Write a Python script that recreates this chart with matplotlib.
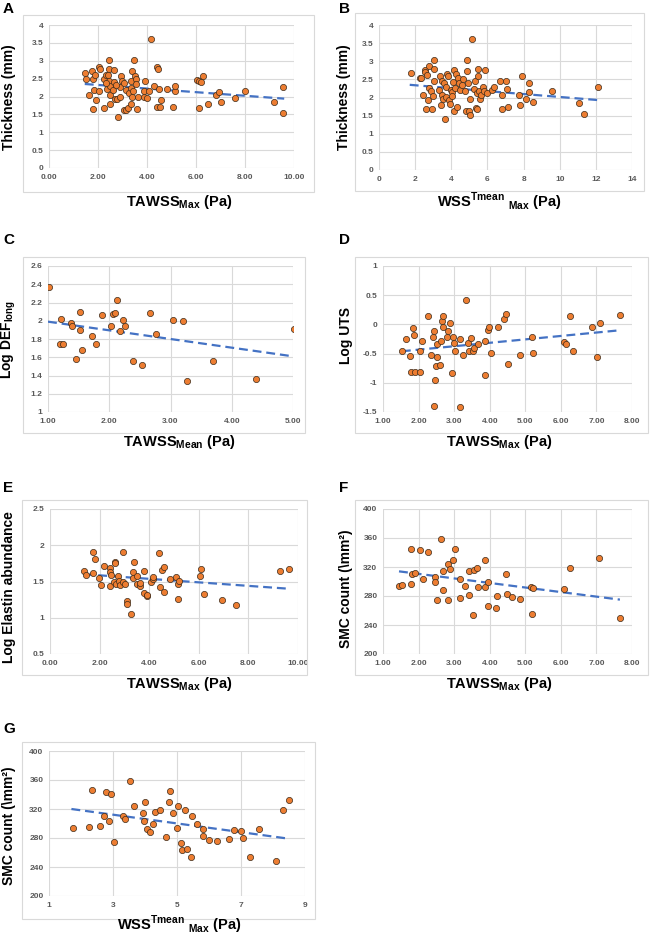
import matplotlib
matplotlib.use("Agg")
import matplotlib.pyplot as plt
from matplotlib.patches import Rectangle

plt.rcParams['font.family'] = ['Liberation Sans', 'DejaVu Sans']
plt.rcParams['mathtext.fontset'] = 'custom'
plt.rcParams['mathtext.rm'] = 'Liberation Sans:bold'
plt.rcParams['mathtext.bf'] = 'Liberation Sans:bold'

# --- data ---
a_x = [1.46, 1.52, 1.77, 1.81, 1.86, 1.63, 1.82, 1.90, 1.78, 2.03, 2.10, 2.04, 2.26, 2.23, 2.31,
       2.46, 2.46, 2.41, 2.44, 2.38, 2.48, 2.50, 2.48, 2.67, 2.65, 2.61, 2.68, 2.79, 2.80, 2.88,
       2.95, 2.99, 3.05, 3.05, 2.91, 3.13, 3.16, 3.22, 3.27, 3.33, 3.36, 3.33, 3.37, 3.40, 3.47,
       3.50, 3.54, 3.56, 3.61, 3.65, 3.43, 3.86, 3.92, 3.86, 3.99, 4.07, 4.18, 4.27, 4.42, 4.45,
       4.39, 4.50, 4.52, 4.59, 4.83, 5.06, 5.13, 5.16, 6.04, 6.11, 6.20, 6.29, 6.11, 6.49, 6.80,
       6.94, 7.03, 7.61, 8.00, 9.18, 9.55, 9.55, 2.31, 2.72]
a_y = [2.66, 2.50, 2.72, 2.50, 2.61, 2.04, 2.19, 1.90, 1.66, 2.83, 2.77, 2.14, 1.68, 2.49, 2.61,
       3.03, 2.77, 2.59, 2.43, 2.21, 2.05, 2.30, 1.80, 2.74, 2.40, 2.19, 1.94, 1.94, 1.43, 2.27,
       2.58, 2.44, 2.38, 1.63, 2.00, 1.63, 2.19, 1.68, 2.10, 2.24, 2.42, 1.80, 2.00, 2.72, 3.03,
       2.58, 2.50, 2.35, 1.65, 2.00, 2.14, 2.14, 2.44, 1.99, 1.96, 2.14, 3.60, 2.30, 2.82, 2.77,
       1.70, 2.22, 1.70, 1.89, 2.21, 1.72, 2.14, 2.28, 2.46, 2.44, 2.40, 2.58, 1.67, 1.79, 2.05,
       2.12, 1.86, 1.95, 2.15, 1.85, 2.27, 1.54, 2.38, 2.33]
a_trend_x = [1.46, 9.60]
a_trend_y = [2.35, 1.94]

b_x = [1.75, 2.25, 2.35, 2.53, 2.55, 2.64, 2.79, 3.05, 3.05, 3.05, 2.46, 2.70, 2.77, 2.86, 3.01,
       2.62, 2.96, 3.32, 3.36, 3.42, 3.47, 3.51, 3.60, 3.64, 3.55, 3.69, 3.72, 3.79, 3.82, 3.88,
       3.93, 3.97, 4.03, 4.06, 4.12, 4.16, 4.16, 4.21, 4.25, 4.29, 4.36, 4.43, 4.47, 4.62, 4.67,
       4.77, 4.80, 4.89, 4.89, 4.95, 4.99, 5.02, 5.02, 5.17, 5.26, 5.32, 5.36, 5.45, 5.45, 5.49,
       5.50, 5.58, 5.54, 5.67, 5.73, 5.82, 5.87, 6.00, 6.28, 6.37, 6.67, 6.80, 6.80, 7.02, 7.11,
       7.15, 7.72, 7.81, 7.91, 8.13, 8.29, 8.31, 8.50, 9.55, 11.05, 11.32, 12.10]
b_y = [2.68, 2.53, 2.55, 2.77, 2.69, 2.63, 2.86, 3.04, 2.78, 2.46, 2.06, 1.92, 2.26, 2.17, 2.05,
       1.68, 1.68, 2.21, 2.60, 1.80, 2.46, 2.07, 2.41, 1.40, 1.95, 2.29, 2.01, 2.65, 2.58, 1.94,
       1.82, 2.21, 2.14, 2.03, 2.44, 2.76, 1.64, 2.26, 2.65, 1.73, 2.53, 2.40, 2.21, 2.35, 2.51,
       2.17, 1.64, 2.74, 3.04, 2.41, 1.64, 1.52, 1.95, 3.61, 2.23, 2.46, 1.71, 1.68, 2.12, 2.60,
       2.80, 1.95, 2.17, 2.07, 2.30, 2.17, 2.76, 2.12, 2.21, 2.30, 2.46, 2.06, 1.68, 2.46, 2.24,
       1.75, 2.06, 1.80, 2.60, 1.95, 2.14, 2.41, 1.87, 2.18, 1.84, 1.55, 2.29]
b_trend_x = [1.70, 12.10]
b_trend_y = [2.35, 1.93]

c_x = [1.02, 1.21, 1.20, 1.24, 1.38, 1.39, 1.46, 1.52, 1.52, 1.56, 1.72, 1.79, 1.88, 2.03, 2.06,
       2.10, 2.13, 2.18, 2.23, 2.26, 2.39, 2.53, 2.66, 2.77, 3.04, 3.21, 3.27, 3.69, 4.40, 5.01]
c_y = [2.37, 2.02, 1.75, 1.74, 1.97, 1.94, 1.58, 2.10, 1.90, 1.68, 1.83, 1.74, 2.06, 1.94, 2.07,
       2.08, 2.23, 1.89, 2.01, 1.94, 1.56, 1.52, 2.09, 1.85, 2.01, 2.00, 1.34, 1.56, 1.36, 1.91]
c_trend_x = [1.00, 5.00]
c_trend_y = [1.99, 1.61]

d_x = [1.53, 1.64, 1.76, 1.78, 1.83, 1.86, 1.90, 2.04, 2.04, 2.09, 2.27, 2.34, 2.40, 2.42, 2.42,
       2.46, 2.50, 2.52, 2.53, 2.60, 2.64, 2.66, 2.68, 2.68, 2.80, 2.82, 2.87, 2.93, 2.98, 3.00,
       3.02, 3.17, 3.17, 3.26, 3.32, 3.38, 3.43, 3.48, 3.53, 3.57, 3.67, 3.87, 3.88, 3.95, 3.98,
       4.04, 4.22, 4.41, 4.47, 4.51, 4.86, 5.19, 5.21, 6.10, 6.15, 6.25, 6.33, 6.88, 7.01, 7.11,
       7.67]
d_y = [-0.45, -0.25, -0.54, -0.81, -0.07, -0.18, -0.81, -0.81, -0.45, -0.28, 0.14, -0.53, -0.21,
       -0.12, -1.39, -0.95, -0.72, -0.33, -0.56, -0.69, -0.28, 0.05, 0.14, -0.04, -0.21, -0.12,
       0.02, -0.84, -0.21, -0.32, -0.45, -0.25, -1.41, -0.52, 0.42, -0.32, -0.45, -0.24, -0.45,
       -0.40, -0.33, -0.29, -0.86, -0.10, -0.04, -0.49, -0.04, 0.10, 0.18, -0.67, -0.52, -0.21,
       -0.49, -0.30, -0.33, 0.14, -0.45, -0.05, -0.56, 0.03, 0.16]
d_trend_x = [1.53, 7.67]
d_trend_y = [-0.46, -0.10]

e_x = [1.39, 1.45, 1.75, 1.83, 1.72, 1.97, 2.06, 2.19, 2.40, 2.42, 2.45, 2.42, 2.60, 2.62, 2.62,
       2.65, 2.76, 2.79, 2.83, 2.93, 2.96, 3.04, 3.10, 3.12, 3.26, 3.34, 3.36, 3.39, 3.50, 3.50,
       3.61, 3.63, 3.81, 3.81, 3.90, 3.90, 4.06, 4.14, 4.17, 4.41, 4.44, 4.51, 4.58, 4.60, 4.82,
       5.07, 5.16, 5.16, 5.21, 6.06, 6.08, 6.22, 6.94, 7.50, 9.26, 9.64]
e_y = [1.64, 1.59, 1.91, 1.81, 1.62, 1.55, 1.45, 1.72, 1.68, 1.63, 1.59, 1.44, 1.49, 1.77, 1.75,
       1.46, 1.57, 1.51, 1.45, 1.91, 1.50, 1.47, 1.23, 1.19, 1.05, 1.55, 1.63, 1.77, 1.47, 1.58,
       1.44, 1.48, 1.65, 1.34, 1.30, 1.32, 1.49, 1.53, 1.56, 1.89, 1.42, 1.66, 1.70, 1.36, 1.53,
       1.56, 1.47, 1.26, 1.51, 1.57, 1.67, 1.33, 1.25, 1.18, 1.65, 1.67]
e_trend_x = [1.39, 9.64]
e_trend_y = [1.60, 1.40]

f_x = [1.45, 1.53, 1.78, 1.78, 1.82, 1.90, 2.03, 2.13, 2.26, 2.47, 2.47, 2.52, 2.63, 2.68, 2.68,
       2.82, 2.82, 2.89, 2.98, 3.02, 3.17, 3.17, 3.31, 3.41, 3.43, 3.53, 3.55, 3.65, 3.68, 3.86,
       3.87, 3.95, 3.95, 4.18, 4.20, 4.46, 4.49, 4.63, 4.86, 5.16, 5.18, 5.21, 6.08, 6.25, 7.08,
       7.66]
f_y = [294, 295, 297, 345, 310, 312, 343, 304, 341, 306, 300, 275, 359, 288, 315,
       324, 274, 317, 330, 345, 303, 277, 294, 315, 282, 254, 316, 319, 292, 292,
       329, 300, 266, 264, 280, 311, 283, 279, 276, 292, 255, 291, 289, 319, 332,
       249]
f_trend_x = [1.45, 7.66]
f_trend_y = [314, 275]

g_x = [1.75, 2.25, 2.35, 2.60, 2.71, 2.79, 2.86, 2.93, 3.03, 3.31, 3.39, 3.52, 3.65, 3.93, 3.98,
       4.01, 4.07, 4.16, 4.26, 4.31, 4.47, 4.66, 4.76, 4.79, 4.86, 4.99, 5.02, 5.14, 5.17, 5.26,
       5.31, 5.45, 5.48, 5.62, 5.80, 5.82, 6.01, 6.26, 6.64, 6.77, 7.01, 7.07, 7.28, 7.56, 8.10,
       8.30, 8.49]
g_y = [294, 295, 346, 297, 311, 343, 304, 341, 274, 310, 306, 359, 324, 315, 303,
       330, 292, 288, 300, 316, 318, 282, 329, 345, 314, 294, 324, 273, 264, 319,
       265, 254, 310, 300, 292, 283, 277, 276, 279, 291, 289, 280, 254, 292, 248,
       319, 332]
g_trend_x = [1.70, 8.50]
g_trend_y = [320, 279]

# axis titles
tawss_max = r"TAWSS$_{\mathrm{Max}}$ (Pa)"
tawss_mean = r"TAWSS$_{\mathrm{Mean}}$ (Pa)"
wss_tmean = r"WSS$^{\mathrm{Tmean}}$ $_{\mathrm{Max}}$ (Pa)"
smc_label = "SMC count (\\mm²)"

W, H = 652, 936
fig = plt.figure(figsize=(W / 100, H / 100), dpi=100)

ORANGE = "#ED7D31"
BLUE = "#4472C4"
GRID = "#D9D9D9"
TICKC = "#595959"


def px_axes(left, top, right, bottom):
    return fig.add_axes([left / W, 1 - bottom / H, (right - left) / W, (bottom - top) / H])


def frame(left, top, right, bottom):
    fig.patches.append(Rectangle((left / W, 1 - bottom / H), (right - left) / W, (bottom - top) / H,
                                 transform=fig.transFigure, fill=False, edgecolor="#D9D9D9", lw=0.8))


def panel(box, frm, xs, ys, tx, ty, xticks, xfmt, yticks, letter, letter_pos,
          xlabel, xlab_pos, ylabel, ylab_pos):
    frame(*frm)
    ax = px_axes(*box)
    ax.set_xlim(xticks[0], xticks[-1])
    ax.set_ylim(yticks[0], yticks[-1])
    ax.set_xticks(xticks)
    ax.set_yticks(yticks)
    ax.set_xticklabels([xfmt.format(v) for v in xticks])
    ax.set_yticklabels(["{:g}".format(v) for v in yticks])
    ax.grid(True, color=GRID, lw=0.8)
    ax.set_axisbelow(True)
    for s in ax.spines.values():
        s.set_visible(False)
    ax.tick_params(length=0, pad=4, labelsize=6, labelcolor=TICKC)
    for t in ax.get_xticklabels() + ax.get_yticklabels():
        t.set_fontweight("bold")
    ax.plot(tx, ty, color=BLUE, lw=1.6, linestyle=(0, (4, 2.2)), zorder=2)
    ax.scatter(xs, ys, s=20, color=ORANGE, edgecolor="#3a2a1a", linewidth=0.5, zorder=3)
    fig.text(letter_pos[0] / W, 1 - letter_pos[1] / H, letter, fontsize=11, fontweight="bold",
             ha="left", va="center")
    fig.text(xlab_pos[0] / W, 1 - xlab_pos[1] / H, xlabel, fontsize=10.5, fontweight="bold",
             ha="center", va="center")
    fig.text(ylab_pos[0] / W, 1 - ylab_pos[1] / H, ylabel, fontsize=10, fontweight="bold",
             ha="center", va="center", rotation=90)
    return ax


panel((49, 25, 294, 168), (23, 15, 314, 192), a_x, a_y, a_trend_x, a_trend_y,
      [0, 2, 4, 6, 8, 10], "{:.2f}", [0, 0.5, 1, 1.5, 2, 2.5, 3, 3.5, 4],
      "A", (3, 9), tawss_max, (179, 202), "Thickness (mm)", (9, 97))
panel((379, 25, 632, 170), (355, 13, 644, 191), b_x, b_y, b_trend_x, b_trend_y,
      [0, 2, 4, 6, 8, 10, 12, 14], "{:g}", [0, 0.5, 1, 1.5, 2, 2.5, 3, 3.5, 4],
      "B", (339, 9), wss_tmean, (499, 202), "Thickness (mm)", (344, 97))
panel((48, 266, 293, 412), (23, 257, 305, 433), c_x, c_y, c_trend_x, c_trend_y,
      [1, 2, 3, 4, 5], "{:.2f}", [1, 1.2, 1.4, 1.6, 1.8, 2, 2.2, 2.4, 2.6],
      "C", (3, 240), tawss_mean, (179, 442), r"Log DEF$_{\mathrm{long}}$", (9, 339))
panel((383, 266, 632, 412), (355, 257, 648, 433), d_x, d_y, d_trend_x, d_trend_y,
      [1, 2, 3, 4, 5, 6, 7, 8], "{:.2f}", [-1.5, -1, -0.5, 0, 0.5, 1],
      "D", (339, 240), tawss_max, (499, 442), "Log UTS", (346, 335))
panel((50, 509, 298, 654), (22, 500, 307, 675), e_x, e_y, e_trend_x, e_trend_y,
      [0, 2, 4, 6, 8, 10], "{:.2f}", [0.5, 1, 1.5, 2, 2.5],
      "E", (3, 488), tawss_max, (179, 684), "Log Elastin abundance", (9, 587))
panel((383, 509, 632, 654), (355, 500, 648, 675), f_x, f_y, f_trend_x, f_trend_y,
      [1, 2, 3, 4, 5, 6, 7, 8], "{:.2f}", [200, 240, 280, 320, 360, 400],
      "F", (339, 488), tawss_max, (499, 684), smc_label, (346, 589))
panel((49, 751, 305, 896), (22, 742, 315, 919), g_x, g_y, g_trend_x, g_trend_y,
      [1, 3, 5, 7, 9], "{:g}", [200, 240, 280, 320, 360, 400],
      "G", (3, 729), wss_tmean, (179, 925), smc_label, (9, 826))

fig.savefig("out.png", dpi=100)
